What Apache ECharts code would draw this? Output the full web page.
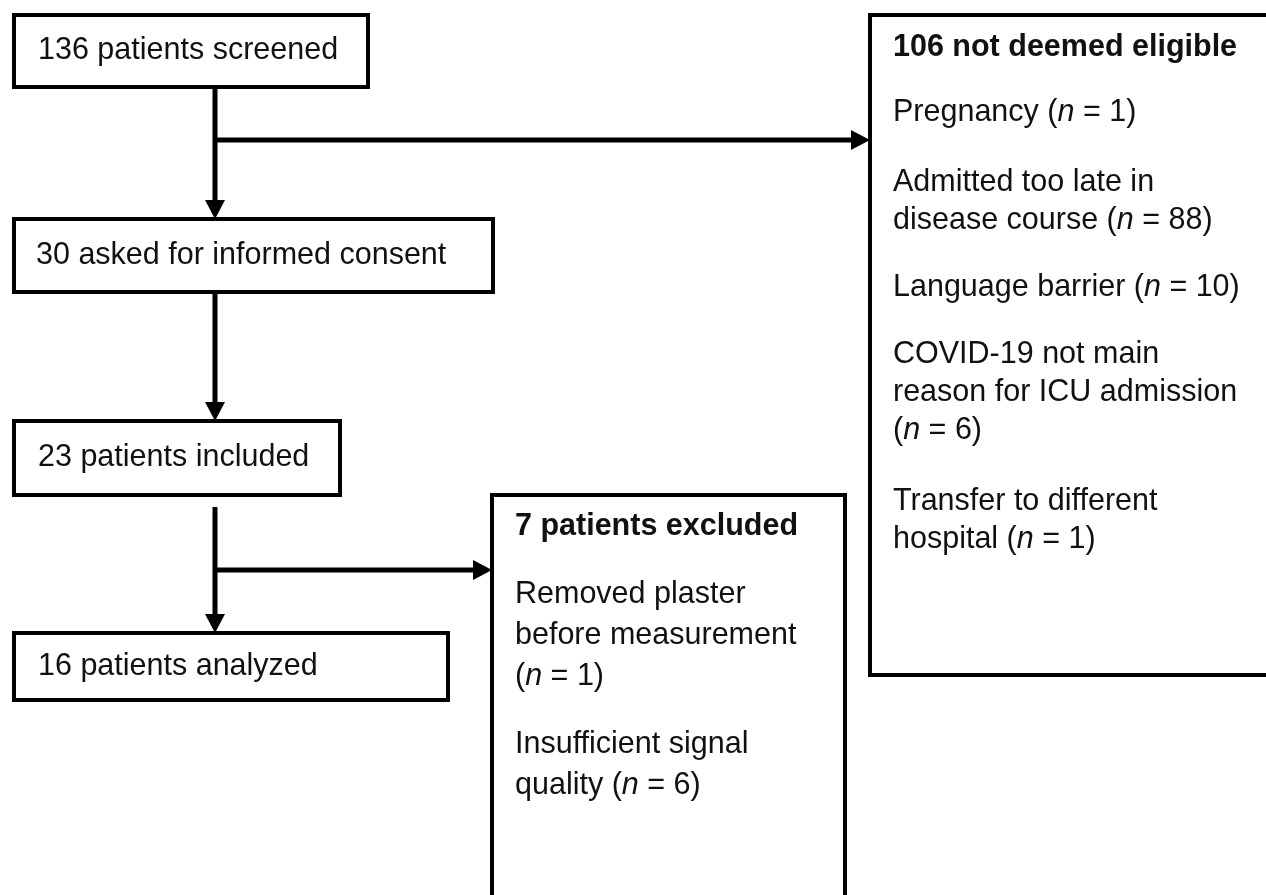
<!DOCTYPE html>
<html>
<head>
<meta charset="utf-8">
<script src="https://cdn.jsdelivr.net/npm/echarts@6/dist/echarts.min.js"></script>
<style>
  html, body { margin: 0; padding: 0; background: #fff; }
  #container { width: 1266px; height: 895px; }
</style>
</head>
<body>
<div id="container"></div>
<script>
// patient counts along the main flow
var flowLabels = ['patients screened', 'asked for informed consent', 'patients included', 'patients analyzed'];
var flowCounts = [136, 30, 23, 16];

// side boxes
var notEligibleCount = 106;
var notEligibleReasons = ['Pregnancy', 'Admitted too late in\ndisease course', 'Language barrier',
                          'COVID-19 not main\nreason for ICU admission\n', 'Transfer to different\nhospital'];
var notEligibleCounts = [1, 88, 10, 6, 1];

var excludedCount = 7;
var excludedReasons = ['Removed plaster\nbefore measurement\n', 'Insufficient signal\nquality'];
var excludedCounts = [1, 6];

(function () {
    var dom = document.getElementById('container');
    var myChart = echarts.init(dom, null, { renderer: 'canvas' });

    var FONT = '"Liberation Sans", Arial, sans-serif';
    var SIZE = 30.5;
    var LW = 4;

    // layout (pixels)
    var flowBoxes = [
        { x1: 14, y1: 15, x2: 368, y2: 87, tx: 38 },
        { x1: 14, y1: 219, x2: 493, y2: 292, tx: 36 },
        { x1: 14, y1: 421, x2: 340, y2: 495, tx: 38 },
        { x1: 14, y1: 633, x2: 448, y2: 700, tx: 38 }
    ];
    var sideBoxes = [
        { x1: 870, y1: 15, x2: 1290, y2: 675, tx: 893, head: 48, paras: [113, 183, 288, 355, 502], step: 38 },
        { x1: 492, y1: 495, x2: 845, y2: 930, tx: 515, head: 527, paras: [595, 745], step: 41 }
    ];
    var arrows = [
        [[215, 87], [215, 219]],
        [[215, 140], [870, 140]],
        [[215, 292], [215, 421]],
        [[215, 507], [215, 633]],
        [[215, 570], [492, 570]]
    ];

    var rich = {
        i: { fontFamily: FONT, fontSize: SIZE, fontStyle: 'italic', fill: '#111' }
    };
    var graphic = [];

    function box(b) {
        graphic.push({
            type: 'rect', silent: true,
            shape: { x: b.x1, y: b.y1, width: b.x2 - b.x1, height: b.y2 - b.y1 },
            style: { fill: '#fff', stroke: '#000', lineWidth: LW, lineJoin: 'miter' }
        });
    }
    function text(x, y, str, bold) {
        graphic.push({
            type: 'text', silent: true, x: x, y: y,
            style: {
                text: str, fill: '#111', font: (bold ? 'bold ' : '') + SIZE + 'px ' + FONT,
                verticalAlign: 'middle', align: 'left', rich: rich
            }
        });
    }
    function arrow(p) {
        var a = p[0], b = p[1], head = 19, half = 10;
        var dx = b[0] - a[0], dy = b[1] - a[1];
        var len = Math.sqrt(dx * dx + dy * dy), ux = dx / len, uy = dy / len;
        var bx = b[0] - ux * head, by = b[1] - uy * head;
        graphic.push({
            type: 'polyline', silent: true,
            shape: { points: [a, [bx, by]] },
            style: { stroke: '#000', lineWidth: LW + 1, lineCap: 'butt' }
        });
        graphic.push({
            type: 'polygon', silent: true,
            shape: { points: [[b[0], b[1]], [bx - uy * half, by + ux * half], [bx + uy * half, by - ux * half]] },
            style: { fill: '#000' }
        });
    }

    flowBoxes.forEach(box);
    sideBoxes.forEach(box);
    arrows.forEach(arrow);

    flowBoxes.forEach(function (b, k) {
        text(b.tx, (b.y1 + b.y2) / 2, flowCounts[k] + ' ' + flowLabels[k], false);
    });

    function side(b, head, reasons, counts) {
        text(b.tx, b.head, head, true);
        reasons.forEach(function (r, k) {
            var lines = r.split('\n');
            var tail = '({i|n} = ' + counts[k] + ')';
            if (lines[lines.length - 1] === '') lines[lines.length - 1] = tail;
            else lines[lines.length - 1] += ' ' + tail;
            lines.forEach(function (ln, j) {
                text(b.tx, b.paras[k] + j * b.step, ln, false);
            });
        });
    }
    side(sideBoxes[0], notEligibleCount + ' not deemed eligible', notEligibleReasons, notEligibleCounts);
    side(sideBoxes[1], excludedCount + ' patients excluded', excludedReasons, excludedCounts);

    var option = {
        backgroundColor: '#fff',
        animation: false,
        graphic: graphic
    };
    myChart.setOption(option, true);
})();
</script>
</body>
</html>
